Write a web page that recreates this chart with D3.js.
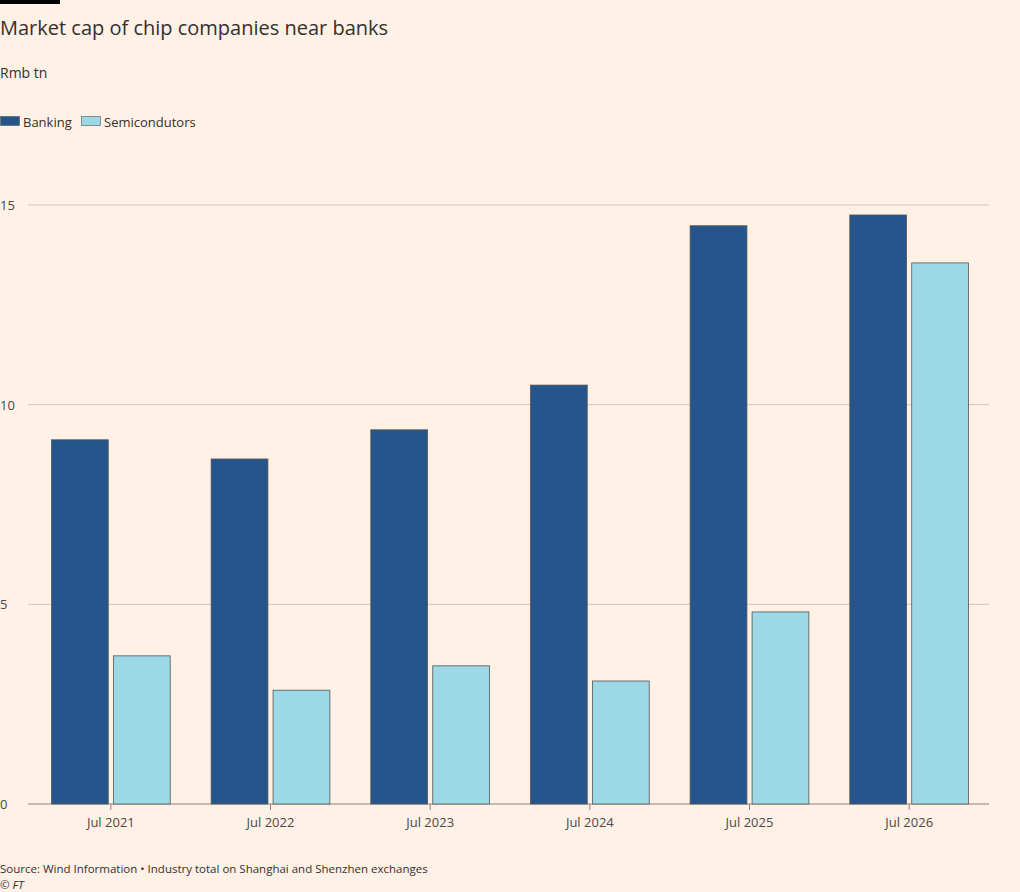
<!DOCTYPE html><html><head><meta charset="utf-8"><script src="https://cdn.jsdelivr.net/npm/d3@7"></script>
<style>body{margin:0;background:#fff1e5;font-family:"Open Sans","Noto Sans",sans-serif;}</style></head><body>
<svg id="c" width="1020" height="892"></svg>
<script>
const categories=["Jul 2021","Jul 2022","Jul 2023","Jul 2024","Jul 2025","Jul 2026"];
const banking=[9.12,8.64,9.37,10.49,14.48,14.75];
const semis=[3.71,2.85,3.46,3.08,4.81,13.55];
const yTicks=[0,5,10,15];
const svg=d3.select("#c");
svg.append("rect").attr("width",1020).attr("height",892).attr("fill","#fff1e5");
svg.append("rect").attr("width",60).attr("height",4).attr("fill","#000");
svg.append("text").attr("x",0).attr("y",35).attr("font-size",20).attr("fill","#33302e").text("Market cap of chip companies near banks");
svg.append("text").attr("x",0).attr("y",78).attr("font-size",14).attr("fill","#33302e").text("Rmb tn");
const leg=[["Banking","#26558b",0],["Semicondutors","#9dd8e6",81]];
leg.forEach(([t,c,x])=>{svg.append("rect").attr("x",x+0.5).attr("y",116.5).attr("width",19).attr("height",9).attr("fill",c).attr("stroke","#555").attr("stroke-width",0.6);
svg.append("text").attr("x",x+23).attr("y",127).attr("font-size",13).attr("fill","#33302e").text(t);});
const y=d3.scaleLinear().domain([0,15]).range([804,205]);
const x=d3.scaleBand().domain(categories).range([31,989]).paddingInner(0.25).paddingOuter(0.125);
const x1=d3.scaleBand().domain([0,1]).range([0,x.bandwidth()]).paddingInner(0.067);
yTicks.forEach(t=>{svg.append("line").attr("x1",28).attr("x2",989).attr("y1",y(t)).attr("y2",y(t)).attr("stroke",t?"#d4c4bb":"#8c8380").attr("stroke-width",1);
svg.append("text").attr("x",0).attr("y",y(t)+5).attr("font-size",13).attr("fill","#4d4845").text(t);});
const g=svg.append("g");
categories.forEach((c,i)=>{[[banking[i],"#26558b"],[semis[i],"#9dd8e6"]].forEach(([v,col],j)=>{
g.append("rect").attr("x",x(c)+x1(j)+0.5).attr("y",y(v)).attr("width",x1.bandwidth()-1).attr("height",y(0)-y(v)).attr("fill",col).attr("stroke","#555").attr("stroke-width",0.8);});
const cx=x(c)+x.bandwidth()/2;
svg.append("line").attr("x1",cx).attr("x2",cx).attr("y1",804).attr("y2",810).attr("stroke","#8c8380");
svg.append("text").attr("x",cx).attr("y",827).attr("text-anchor","middle").attr("font-size",13).attr("fill","#4d4845").text(c);});
svg.append("text").attr("x",0).attr("y",873).attr("font-size",11.5).attr("fill","#33302e").text("Source: Wind Information • Industry total on Shanghai and Shenzhen exchanges");
svg.append("text").attr("x",0).attr("y",889).attr("font-size",11.5).attr("font-style","italic").attr("fill","#33302e").text("© FT");
</script></body></html>
